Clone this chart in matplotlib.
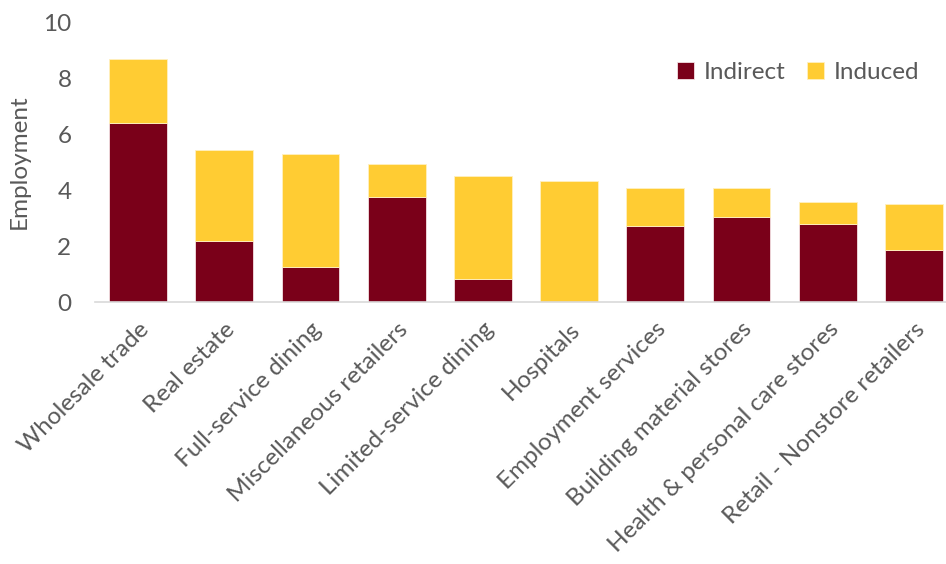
import matplotlib
matplotlib.use("Agg")
import matplotlib.pyplot as plt
import numpy as np

categories = ["Wholesale trade", "Real estate", "Full-service dining",
              "Miscellaneous retailers", "Limited-service dining", "Hospitals",
              "Employment services", "Building material stores",
              "Health & personal care stores", "Retail - Nonstore retailers"]
indirect = [6.38, 2.19, 1.25, 3.74, 0.82, 0.0, 2.71, 3.04, 2.80, 1.86]
induced = [2.30, 3.25, 4.02, 1.19, 3.68, 4.33, 1.36, 1.03, 0.76, 1.63]

maroon = "#7A0019"
gold = "#FFCC33"
grey = "#595959"
fs = 17.5

plt.rcParams["font.family"] = ["Lato", "DejaVu Sans"]

fig = plt.figure(figsize=(9.46, 5.64), dpi=100)
ax = fig.add_axes([95 / 946, 1 - 302 / 564, 862 / 946, 280 / 564])

x = np.arange(len(categories))
ax.bar(x, indirect, width=0.67, color=maroon, edgecolor="#f3e0e3",
       linewidth=0.6, label="Indirect")
ax.bar(x, induced, width=0.67, bottom=indirect, color=gold,
       edgecolor="#fff0c0", linewidth=0.6, label="Induced")

ax.set_xlim(-0.5, len(categories) - 0.5)
ax.set_ylim(0, 10)
ax.set_yticks(range(0, 11, 2))
ax.set_xticks(x)
ax.set_xticklabels(categories, rotation=45, ha="right",
                   rotation_mode="anchor", fontsize=fs, color=grey)
ax.tick_params(axis="y", labelsize=fs, labelcolor=grey, length=0, pad=17)
ax.tick_params(axis="x", length=0, pad=12)

for side in ["top", "right", "left"]:
    ax.spines[side].set_visible(False)
ax.spines["bottom"].set_color("#d9d9d9")
ax.spines["bottom"].set_linewidth(1.2)

ax.set_ylabel("Employment", fontsize=fs, color=grey, labelpad=10)

ax.legend(loc="upper right", bbox_to_anchor=(0.982, 0.935), ncol=2,
          frameon=False, fontsize=fs, labelcolor=grey, handlelength=0.7,
          handleheight=0.7, handletextpad=0.4, columnspacing=0.9)

fig.savefig("out.png", dpi=100)
